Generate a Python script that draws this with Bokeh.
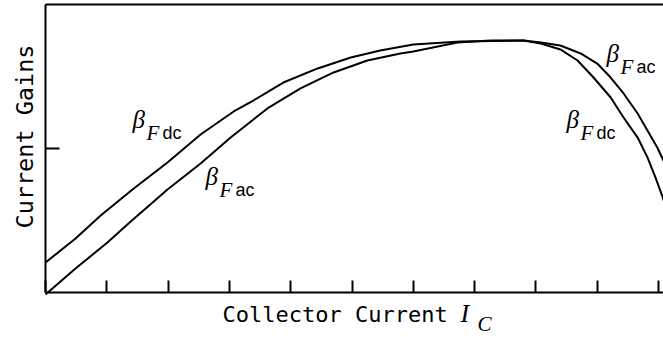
from bokeh.plotting import figure
from bokeh.models import Label, LinearAxis, Range1d, FixedTicker
from bokeh.embed import file_html
from bokeh.resources import INLINE

# ---- data (arbitrary units) ----
ic_dc = [0.00, 0.49, 0.90, 1.44, 1.99, 2.53, 3.07, 3.39, 3.88, 4.44, 4.98, 5.46,
         6.00, 6.77, 7.80, 8.08, 8.40, 8.68, 8.94, 9.22, 9.43, 9.66, 9.82, 9.95,
         10.07, 10.16]
beta_dc = [0.208, 0.375, 0.535, 0.722, 0.903, 1.097, 1.257, 1.333, 1.458, 1.556,
           1.632, 1.681, 1.722, 1.743, 1.750, 1.729, 1.688, 1.611, 1.493, 1.354,
           1.215, 1.076, 0.938, 0.799, 0.660, 0.535]

ic_ac = [0.00, 0.49, 1.01, 1.39, 1.71, 1.99, 2.53, 3.02, 3.62, 4.16, 4.70, 5.25,
         5.79, 6.00, 6.72, 7.26, 7.80, 8.08, 8.40, 8.73, 9.00, 9.22, 9.43, 9.66,
         9.82, 9.98, 10.08, 10.20]
beta_ac = [-0.014, 0.167, 0.347, 0.493, 0.611, 0.715, 0.896, 1.076, 1.278, 1.417,
           1.528, 1.611, 1.660, 1.674, 1.736, 1.750, 1.750, 1.736, 1.715, 1.660,
           1.590, 1.493, 1.382, 1.243, 1.125, 1.007, 0.917, 0.813]

x_ticks = [0, 1, 2, 3, 4, 5, 6, 7, 8, 9, 10]
y_ticks = [1]

x_title = "Collector Current"
y_title = "Current Gains"

# ---- layout helpers (pixel -> data) ----
LEFT, BOTTOM, TOP = 45, 292, 4
PX_X = 61.3
PX_Y = 144.0
W, H = 663, 337


def dx(px):
    return (px - LEFT) / PX_X


def dy(py):
    return (BOTTOM - py) / PX_Y


X_END = dx(W)
Y_TOP = dy(TOP)

p = figure(width=W, height=H, output_backend="svg", toolbar_location=None,
           x_range=Range1d(dx(0), dx(W)), y_range=Range1d(dy(H), dy(0)),
           min_border_left=0, min_border_right=0, min_border_top=0,
           min_border_bottom=0, x_axis_type=None, y_axis_type=None)
p.grid.visible = False
p.outline_line_color = None
p.background_fill_color = "white"
p.border_fill_color = "white"

common = dict(minor_tick_line_color=None, axis_line_width=2, major_tick_line_width=2,
              major_label_standoff=0, major_tick_out=0)
xa = LinearAxis(ticker=FixedTicker(ticks=x_ticks), major_tick_in=12,
                fixed_location=0, bounds=(0, X_END),
                major_label_overrides={t: "" for t in x_ticks}, **common)
ya = LinearAxis(ticker=FixedTicker(ticks=y_ticks), major_tick_in=14,
                fixed_location=0, bounds=(0, Y_TOP),
                major_label_overrides={t: "" for t in y_ticks}, **common)
ta = LinearAxis(ticker=FixedTicker(ticks=[]), major_tick_in=0,
                fixed_location=Y_TOP, bounds=(0, X_END), **common)
p.add_layout(xa, "below")
p.add_layout(ya, "left")
p.add_layout(ta, "above")

p.line(ic_dc, beta_dc, line_color="black", line_width=2)
p.line(ic_ac, beta_ac, line_color="black", line_width=2)

MONO = "DejaVu Sans Mono"
SERIF = "Liberation Serif"
SANS = "Liberation Sans"


def lab(px, base, text, font, size, style="normal", k=0.34, angle=0.0):
    # px: left edge, base: text baseline (pixels); drawn with a middle anchor
    if angle:
        x, y = dx(base - k * size), dy(px)
    else:
        x, y = dx(px), dy(base - k * size)
    p.add_layout(Label(x=x, y=y, text=text, text_font=font, text_font_style=style,
                       text_font_size=f"{size}px", text_color="black",
                       text_baseline="middle", text_align="left", angle=angle))


lab(222, 322, x_title, MONO, 22, k=0.346)
lab(460, 322, "I", SERIF, 26, "italic")
lab(477, 331, "C", SERIF, 21, "italic")
lab(228, 33, y_title, MONO, 23.5, k=0.346, angle=1.5707963)


def beta_label(px, py, sub):
    # px, py: left / baseline of beta in pixels
    lab(px, py, "β", SERIF, 25, "italic")
    lab(px + 14, py + 13, "F", SERIF, 21, "italic")
    lab(px + 30, py + 12, sub, SANS, 18)


beta_label(132, 127, "dc")
beta_label(205, 184, "ac")
beta_label(606, 61, "ac")
beta_label(566, 127, "dc")

open("out.html", "w").write(file_html(p, INLINE))
